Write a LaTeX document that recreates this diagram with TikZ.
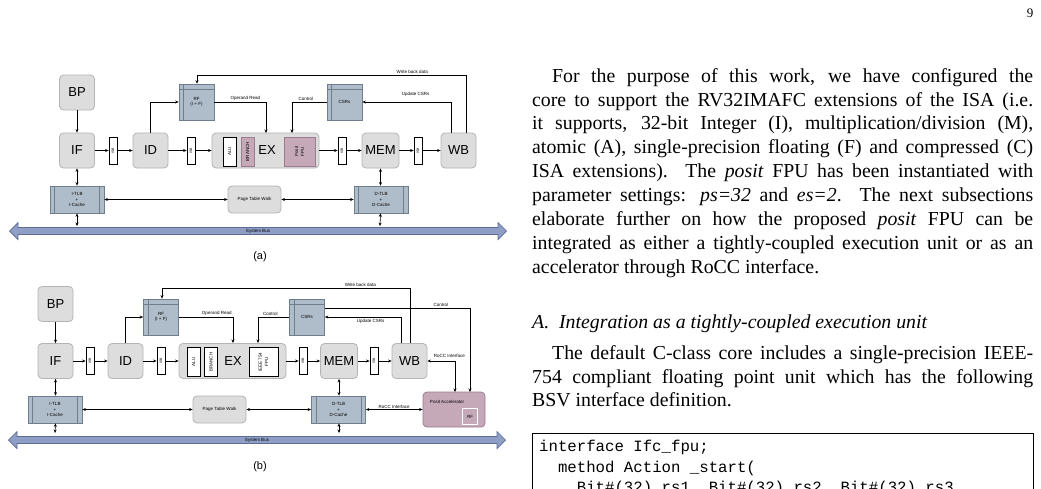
\documentclass[tikz,border=0pt]{standalone}
\usepackage{fontspec}
\setmainfont{Liberation Serif}
\setsansfont{Liberation Sans}
\setmonofont{Liberation Mono}
\usetikzlibrary{arrows.meta,shapes.arrows}
\definecolor{stgfill}{HTML}{DDDDDD}
\definecolor{stgdraw}{HTML}{B4B4B4}
\definecolor{memfill}{HTML}{AFBCC9}
\definecolor{memdraw}{HTML}{6E7E8D}
\definecolor{posfill}{HTML}{C6A9B9}
\definecolor{posdraw}{HTML}{9A7C8D}
\definecolor{busfill}{HTML}{8E9EC4}
\definecolor{busdraw}{HTML}{5D6C96}
\tikzset{
  Stage/.style={rectangle, rounded corners=4pt, fill=stgfill, draw=stgdraw, line width=0.8pt,
    minimum width=35pt, minimum height=35pt, font=\sffamily\fontsize{13}{13}\selectfont},
  Buf/.style={rectangle, draw=black, fill=white, line width=0.8pt, minimum width=8pt, minimum height=27pt,
    inner sep=0pt, font=\sffamily\fontsize{3.5}{4}\selectfont},
  Mem/.style={rectangle, fill=memfill, draw=memdraw, line width=0.7pt, minimum width=54pt,
    minimum height=27pt, align=center, font=\sffamily\fontsize{4.5}{5.5}\selectfont},
  Reg/.style={Mem, minimum width=35pt, minimum height=36pt},
  Unit/.style={rectangle, draw=black, line width=0.8pt, fill=white, inner sep=0pt,
    minimum height=29pt, font=\sffamily\fontsize{4.5}{5}\selectfont},
  Lbl/.style={font=\sffamily\fontsize{4.5}{5}\selectfont, inner sep=1pt},
  arrow/.style={line width=0.6pt, -{Stealth[length=3.5pt,width=3pt]}},
  biarrow/.style={line width=0.6pt, {Stealth[length=3.5pt,width=3pt]}-{Stealth[length=3.5pt,width=3pt]}},
  Bus/.style={single arrow, double arrow, fill=busfill, draw=busdraw, line width=0.7pt,
    minimum height=497pt, minimum width=17pt, double arrow head extend=3.5pt, inner sep=0pt,
    font=\sffamily\fontsize{4.5}{5}\selectfont},
  Para/.style={text width=501pt, align=justify, inner sep=0pt, anchor=north west,
    font=\fontsize{19.8}{23.9}\selectfont}
}
\begin{document}
\begin{tikzpicture}[x=1pt, y=-1pt]
\useasboundingbox (0,0) rectangle (1041,488);
\fill[white] (0,0) rectangle (1041,488);

% ---------- diagram (a) ----------
\node (aBP) [Stage] at (77,92.5) {BP};
\node (aIF) [Stage] at (77,150.5) {IF};
\node (aID) [Stage] at (150.5,150.5) {ID};
\node (aEX) [Stage, minimum width=107pt] at (265.5,150.5) {};
\node (aMEM) [Stage] at (380.5,150.5) {MEM};
\node (aWB) [Stage] at (458.5,150.5) {WB};
\node (aB1) [Buf] at (113,150.5) {\rotatebox{90}{ISB}};
\node (aB2) [Buf] at (191,150.5) {\rotatebox{90}{ISB}};
\node (aB3) [Buf] at (342,150.5) {\rotatebox{90}{ISB}};
\node (aB4) [Buf] at (418,150.5) {\rotatebox{90}{ISB}};
\node (aALU) [Unit, minimum width=13pt] at (229.5,151.5) {\rotatebox{90}{ALU}};
\node (aBR) [Unit, minimum width=13pt, fill=posfill, draw=posdraw] at (247.5,151.5) {\rotatebox{90}{BRANCH}};
\node at (267,150.5) {\sffamily\fontsize{13}{13}\selectfont EX};
\node (aFPU) [Unit, minimum width=31pt, fill=posfill, draw=posdraw] at (299.5,151.5) {\rotatebox{90}{\shortstack{Posit\\FPU}}};
\node (aRF) [Reg] at (196.5,102) {RF\\(I + F)};
\node (aCSR) [Reg] at (344.5,102) {CSRs};
\draw[memdraw, line width=0.7pt] ([yshift=-6pt]aRF.north west) -- ([yshift=-6pt]aRF.north east)
  ([xshift=5pt]aRF.north west) -- ([xshift=5pt]aRF.south west)
  ([yshift=-6pt]aCSR.north west) -- ([yshift=-6pt]aCSR.north east)
  ([xshift=5pt]aCSR.north west) -- ([xshift=5pt]aCSR.south west);
\node (aIT) [Mem] at (77,199.5) {I-TLB\\+\\I-Cache};
\node (aPTW) [Stage, minimum width=53pt, minimum height=27pt, font=\sffamily\fontsize{4.5}{5}\selectfont] at (254.5,199.5) {Page Table Walk};
\node (aDT) [Mem] at (381,199.5) {D-TLB\\+\\D-Cache};
\foreach \n in {aIT,aDT}
  \draw[memdraw, line width=0.7pt] ([xshift=5pt]\n.north west) -- ([xshift=5pt]\n.south west)
    ([xshift=-5pt]\n.north east) -- ([xshift=-5pt]\n.south east);
\node (aBus) [Bus] at (258,231) {System Bus};
\node at (260,257) {\sffamily\fontsize{11}{11}\selectfont (a)};
\coordinate (aBI) at (77,226);
\coordinate (aBD) at (380,226);

\draw[arrow] (aBP) -- (aIF);
\draw[arrow] (aIF) -- (aB1);
\draw[arrow] (aB1) -- (aID);
\draw[arrow] (aID) -- (aB2);
\draw[arrow] (aB2) -- (aEX);
\draw[arrow] (aEX) -- (aB3);
\draw[arrow] (aB3) -- (aMEM);
\draw[arrow] (aMEM) -- (aB4);
\draw[arrow] (aB4) -- (aWB);
\draw[biarrow] (aIF) -- (aIT);
\draw[biarrow] (aIT) -- (aBI);
\draw[biarrow] (aMEM.south) -- (aDT.north -| aMEM.south);
\draw[biarrow] (aDT.south -| aMEM.south) -- (aBD);
\draw[biarrow] (aIT) -- (aPTW);
\draw[biarrow] (aPTW) -- (aDT);
\draw[arrow] (aID.north) |- (aRF.west);
\draw[arrow] (aRF.east) -| node[Lbl, pos=0.3, above] {Operand Read} (266,133);
\draw[arrow] (aCSR.west) -| node[Lbl, pos=0.3, above] {Control} (292,133);
\draw[arrow] (451,133) |- node[Lbl, pos=0.7, above=4pt] {Update CSRs} (aCSR.east);
\draw[arrow] (466,133) |- (197,75) node[Lbl, pos=0.6, above] {Write back data} -- (aRF.north -| 197,0);

% ---------- diagram (b) ----------
\node (bBP) [Stage] at (55.5,304) {BP};
\node (bIF) [Stage] at (55.5,361) {IF};
\node (bID) [Stage] at (125.5,361) {ID};
\node (bEX) [Stage, minimum width=107pt] at (232.5,361) {};
\node (bMEM) [Stage] at (339,361) {MEM};
\node (bWB) [Stage] at (409.5,361) {WB};
\node (bB1) [Buf] at (90,361) {\rotatebox{90}{ISB}};
\node (bB2) [Buf] at (161,361) {\rotatebox{90}{ISB}};
\node (bB3) [Buf] at (303,361) {\rotatebox{90}{ISB}};
\node (bB4) [Buf] at (374,361) {\rotatebox{90}{ISB}};
\node (bALU) [Unit, minimum width=13pt] at (193.5,362) {\rotatebox{90}{ALU}};
\node (bBR) [Unit, minimum width=13pt] at (211,362) {\rotatebox{90}{BRANCH}};
\node at (233,361) {\sffamily\fontsize{13}{13}\selectfont EX};
\node (bFPU) [Unit, minimum width=29pt] at (263.5,362) {\rotatebox{90}{\shortstack{IEEE 754\\FPU}}};
\node (bRF) [Reg] at (161,317) {RF\\(I + F)};
\node (bCSR) [Reg] at (307,317) {CSRs};
\draw[memdraw, line width=0.7pt] ([yshift=-6pt]bRF.north west) -- ([yshift=-6pt]bRF.north east)
  ([xshift=5pt]bRF.north west) -- ([xshift=5pt]bRF.south west)
  ([yshift=-6pt]bCSR.north west) -- ([yshift=-6pt]bCSR.north east)
  ([xshift=5pt]bCSR.north west) -- ([xshift=5pt]bCSR.south west);
\node (bIT) [Mem] at (55,409.5) {I-TLB\\+\\I-Cache};
\node (bPTW) [Stage, minimum width=53pt, minimum height=27pt, font=\sffamily\fontsize{4.5}{5}\selectfont] at (219.5,409.5) {Page Table Walk};
\node (bDT) [Mem] at (338.5,409.5) {D-TLB\\+\\D-Cache};
\foreach \n in {bIT,bDT}
  \draw[memdraw, line width=0.7pt] ([xshift=5pt]\n.north west) -- ([xshift=5pt]\n.south west)
    ([xshift=-5pt]\n.north east) -- ([xshift=-5pt]\n.south east);
\node (bPA) [Stage, minimum width=62pt, fill=posfill, draw=posdraw, font=\sffamily\fontsize{4.5}{5}\selectfont] at (454,409.5) {};
\node at (447,402) {\sffamily\fontsize{4.5}{5}\selectfont Posit Accelerator};
\node (bPRF) [rectangle, draw=posdraw, double, double distance=1pt, minimum width=15pt, minimum height=16pt,
  font=\sffamily\fontsize{4.5}{5}\selectfont] at (470,416.5) {RF};
\node (bBus) [Bus] at (257,440) {System Bus};
\node at (260,467) {\sffamily\fontsize{11}{11}\selectfont (b)};
\coordinate (bBI) at (55,433);
\coordinate (bBD) at (339,433);

\draw[arrow] (bBP) -- (bIF);
\draw[arrow] (bIF) -- (bB1);
\draw[arrow] (bB1) -- (bID);
\draw[arrow] (bID) -- (bB2);
\draw[arrow] (bB2) -- (bEX);
\draw[arrow] (bEX) -- (bB3);
\draw[arrow] (bB3) -- (bMEM);
\draw[arrow] (bMEM) -- (bB4);
\draw[arrow] (bB4) -- (bWB);
\draw[biarrow] (bIF) -- (bIT.north -| bIF);
\draw[biarrow] (bIT.south -| bIF) -- (bBI);
\draw[biarrow] (bMEM.south) -- (bDT.north -| bMEM.south);
\draw[biarrow] (bDT.south -| bMEM.south) -- (bBD);
\draw[biarrow] (bIT) -- (bPTW);
\draw[biarrow] (bPTW) -- (bDT);
\draw[biarrow] (bDT) -- node[Lbl, above] {RoCC Interface} (bPA);
\draw[arrow] (bID.north) |- (bRF.west);
\draw[arrow] (bRF.east) -| node[Lbl, pos=0.35, above] {Operand Read} (233,343);
\draw[arrow] (bCSR.west) -| node[Lbl, pos=0.3, above] {Control} (258,343);
\draw[arrow] (401,343) |- node[Lbl, pos=0.7, below=1pt] {Update CSRs} (bCSR.east);
\draw[arrow] (410,343) |- (162,288) node[Lbl, pos=0.6, above] {Write back data} -- (bRF.north -| 162,0);
\draw[arrow] ([yshift=9pt]bCSR.east) -| node[Lbl, pos=0.4, above] {Control} (470,392);
\draw[biarrow] (bWB.east) -| node[Lbl, pos=0.4, above=2pt] {RoCC Interface} (455,392);

% ---------- page text ----------
\node at (1030,13) {\fontsize{13}{13}\selectfont 9};
\node (p1) [Para] at (532,68) {\hspace*{20pt}For the purpose of this work, we have configured the\linebreak
  core to support the RV32IMAFC extensions of the ISA (i.e.\linebreak
  it supports, 32-bit Integer (I), multiplication/division (M),\linebreak
  atomic (A), single-precision floating (F) and compressed (C)\linebreak
  ISA extensions). The \textit{posit} FPU has been instantiated with\linebreak
  parameter settings: \textit{ps=32} and \textit{es=2}. The next subsections\linebreak
  elaborate further on how the proposed \textit{posit} FPU can be\linebreak
  integrated as either a tightly-coupled execution unit or as an\linebreak
  accelerator through RoCC interface.};
\node (h1) [Para] at (532,315) {\textit{A.\ \ Integration as a tightly-coupled execution unit}};
\node (p2) [Para] at (532,345) {\hspace*{20pt}The default C-class core includes a single-precision IEEE-\linebreak
  754 compliant floating point unit which has the following\linebreak
  BSV interface definition.};
\draw[line width=0.8pt] (532,495) |- (1033,433) -- (1033,495);
\node (lst) [anchor=north west, inner sep=0pt, align=left, font=\ttfamily\fontsize{15.7}{20.5}\selectfont] at (539,440)
  {interface Ifc\_fpu;\\\ \ method Action \_start(\\\ \ \ \ Bit\#(32) rs1, Bit\#(32) rs2, Bit\#(32) rs3,};
\end{tikzpicture}
\end{document}
